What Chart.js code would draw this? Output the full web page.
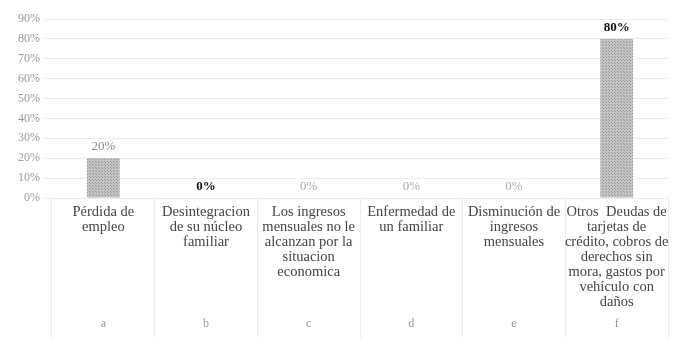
<!DOCTYPE html>
<html>
<head>
<meta charset="utf-8">
<script src="https://cdn.jsdelivr.net/npm/chart.js@4.4.1/dist/chart.umd.min.js"></script>
<style>
  html, body { margin: 0; padding: 0; background: #fff; }
  #wrap { width: 674px; height: 342px; position: relative; }
</style>
</head>
<body>
<div id="wrap"><canvas id="motivosChart"></canvas></div>
<script>
// Motivos de atraso en el pago
const categories = [
    ['Pérdida de', 'empleo'],
    ['Desintegracion', 'de su núcleo', 'familiar'],
    ['Los ingresos', 'mensuales no le', 'alcanzan por la', 'situacion', 'economica'],
    ['Enfermedad de', 'un familiar'],
    ['Disminución de', 'ingresos', 'mensuales'],
    ['Otros  Deudas de', 'tarjetas de', 'crédito, cobros de', 'derechos sin', 'mora, gastos por', 'vehículo con', 'daños']
];
const letters = ['a', 'b', 'c', 'd', 'e', 'f'];
const values = [20, 0, 0, 0, 0, 80];

// colour of each value label (some print darker than others)
const labelColors = ['#8a8a8a', '#111', '#aaa', '#aaa', '#aaa', '#111'];
const labelWeights = ['normal', 'bold', 'normal', 'normal', 'normal', 'bold'];

// dotted grey fill like the printed bars
function barPattern() {
    const c = document.createElement('canvas');
    c.width = 3; c.height = 3;
    const g = c.getContext('2d');
    g.fillStyle = '#c4c4c4';
    g.fillRect(0, 0, 3, 3);
    g.fillStyle = '#969696';
    g.fillRect(0, 0, 1, 1);
    g.fillRect(2, 2, 1, 1);
    return g.createPattern(c, 'repeat');
}

const valueLabels = {
    id: 'valueLabels',
    afterDatasetsDraw(chart) {
        const ctx = chart.ctx;
        const meta = chart.getDatasetMeta(0);
        ctx.save();
        ctx.textAlign = 'center';
        ctx.textBaseline = 'bottom';
        meta.data.forEach((bar, i) => {
            ctx.font = labelWeights[i] + ' 13px "Liberation Serif", serif';
            ctx.fillStyle = labelColors[i];
            ctx.fillText(values[i] + '%', bar.x, bar.y - 5);
        });
        ctx.restore();
    }
};

function createChart() {
    const ctx = document.getElementById('motivosChart').getContext('2d');

    new Chart(ctx, {
        type: 'bar',
        data: {
            labels: categories,
            datasets: [{
                data: values,
                backgroundColor: barPattern(),
                borderWidth: 0,
                categoryPercentage: 1,
                barPercentage: 0.32
            }]
        },
        options: {
            responsive: true,
            maintainAspectRatio: false,
            animation: false,
            layout: { padding: { top: 19, right: 6, left: 0, bottom: 0 } },
            plugins: {
                legend: { display: false },
                tooltip: { enabled: false }
            },
            scales: {
                x: {
                    position: 'bottom',
                    border: { display: false },
                    grid: {
                        offset: true,
                        drawOnChartArea: false,
                        tickLength: 140,
                        color: '#ededed'
                    },
                    ticks: {
                        autoSkip: false,
                        maxRotation: 0,
                        padding: -133,
                        color: '#444',
                        font: { family: '"Liberation Serif", serif', size: 14.5, lineHeight: 1.03 }
                    },
                    afterFit(scale) { scale.height = 120; }
                },
                x2: {
                    type: 'category',
                    position: 'bottom',
                    labels: letters,
                    border: { display: false },
                    grid: { display: false, drawTicks: false },
                    ticks: {
                        padding: -1,
                        color: '#999',
                        font: { family: '"Liberation Serif", serif', size: 12 }
                    },
                    afterFit(scale) { scale.height = 24; }
                },
                y: {
                    min: 0,
                    max: 90,
                    border: { display: false },
                    grid: { color: '#ececec', tickLength: 8 },
                    ticks: {
                        stepSize: 10,
                        padding: 4,
                        color: '#999',
                        font: { family: '"Liberation Serif", serif', size: 12 },
                        callback: v => v + '%'
                    },
                    afterFit(scale) { scale.width = 52; }
                }
            }
        },
        plugins: [valueLabels]
    });
}

document.addEventListener('DOMContentLoaded', () => {
    createChart();
});
</script>
</body>
</html>
